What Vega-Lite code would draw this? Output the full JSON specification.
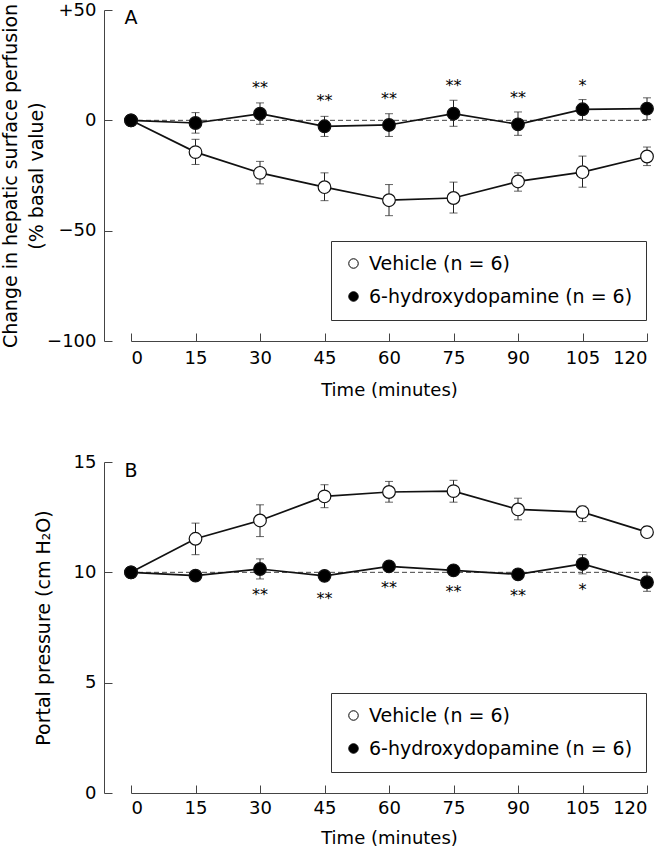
{
  "$schema": "https://vega.github.io/schema/vega-lite/v6.json",
  "padding": {"left": 1, "top": 1, "right": 0, "bottom": 2},
  "background": "white",
  "config": {
    "view": {"stroke": null},
    "font": "DejaVu Sans",
    "axis": {
      "domainColor": "#444", "tickColor": "#444", "domainWidth": 1, "tickWidth": 1,
      "labelColor": "black", "titleColor": "black", "labelFontSize": 18, "titleFontSize": 18,
      "titleFontWeight": "normal", "grid": false, "labelFont": "DejaVu Sans", "titleFont": "DejaVu Sans"
    },
    "legend": {"labelFont": "DejaVu Sans"}
  },
  "datasets": {
    "a": [
      {"t": 0, "group": "Vehicle (n = 6)", "mean": 0, "lo": 0, "hi": 0},
      {"t": 15, "group": "Vehicle (n = 6)", "mean": -14.4, "lo": -20.0, "hi": -8.6},
      {"t": 30, "group": "Vehicle (n = 6)", "mean": -23.8, "lo": -28.8, "hi": -18.6},
      {"t": 45, "group": "Vehicle (n = 6)", "mean": -30.3, "lo": -36.4, "hi": -23.8},
      {"t": 60, "group": "Vehicle (n = 6)", "mean": -36.2, "lo": -43.2, "hi": -29.1},
      {"t": 75, "group": "Vehicle (n = 6)", "mean": -35.2, "lo": -42.0, "hi": -28.0},
      {"t": 90, "group": "Vehicle (n = 6)", "mean": -27.7, "lo": -32.1, "hi": -23.8},
      {"t": 105, "group": "Vehicle (n = 6)", "mean": -23.5, "lo": -30.3, "hi": -16.2},
      {"t": 120, "group": "Vehicle (n = 6)", "mean": -16.4, "lo": -20.5, "hi": -12.1},
      {"t": 0, "group": "6-hydroxydopamine (n = 6)", "mean": 0, "lo": 0, "hi": 0},
      {"t": 15, "group": "6-hydroxydopamine (n = 6)", "mean": -1.2, "lo": -5.8, "hi": 3.5},
      {"t": 30, "group": "6-hydroxydopamine (n = 6)", "mean": 3.0, "lo": -1.8, "hi": 7.9},
      {"t": 45, "group": "6-hydroxydopamine (n = 6)", "mean": -2.7, "lo": -7.3, "hi": 1.8},
      {"t": 60, "group": "6-hydroxydopamine (n = 6)", "mean": -2.1, "lo": -7.3, "hi": 3.0},
      {"t": 75, "group": "6-hydroxydopamine (n = 6)", "mean": 3.0, "lo": -2.7, "hi": 9.1},
      {"t": 90, "group": "6-hydroxydopamine (n = 6)", "mean": -1.8, "lo": -6.8, "hi": 3.8},
      {"t": 105, "group": "6-hydroxydopamine (n = 6)", "mean": 5.0, "lo": 0.3, "hi": 9.4},
      {"t": 120, "group": "6-hydroxydopamine (n = 6)", "mean": 5.3, "lo": 0.3, "hi": 10.2}
    ],
    "b": [
      {"t": 0, "group": "Vehicle (n = 6)", "mean": 10, "lo": 10, "hi": 10},
      {"t": 15, "group": "Vehicle (n = 6)", "mean": 11.52, "lo": 10.8, "hi": 12.23},
      {"t": 30, "group": "Vehicle (n = 6)", "mean": 12.35, "lo": 11.62, "hi": 13.06},
      {"t": 45, "group": "Vehicle (n = 6)", "mean": 13.44, "lo": 12.93, "hi": 13.97},
      {"t": 60, "group": "Vehicle (n = 6)", "mean": 13.64, "lo": 13.18, "hi": 14.12},
      {"t": 75, "group": "Vehicle (n = 6)", "mean": 13.68, "lo": 13.18, "hi": 14.17},
      {"t": 90, "group": "Vehicle (n = 6)", "mean": 12.85, "lo": 12.38, "hi": 13.36},
      {"t": 105, "group": "Vehicle (n = 6)", "mean": 12.73, "lo": 12.3, "hi": 13.0},
      {"t": 120, "group": "Vehicle (n = 6)", "mean": 11.82, "lo": 11.6, "hi": 12.08},
      {"t": 0, "group": "6-hydroxydopamine (n = 6)", "mean": 10, "lo": 10, "hi": 10},
      {"t": 15, "group": "6-hydroxydopamine (n = 6)", "mean": 9.85, "lo": 9.75, "hi": 9.95},
      {"t": 30, "group": "6-hydroxydopamine (n = 6)", "mean": 10.15, "lo": 9.7, "hi": 10.61},
      {"t": 45, "group": "6-hydroxydopamine (n = 6)", "mean": 9.84, "lo": 9.74, "hi": 9.94},
      {"t": 60, "group": "6-hydroxydopamine (n = 6)", "mean": 10.27, "lo": 10.17, "hi": 10.37},
      {"t": 75, "group": "6-hydroxydopamine (n = 6)", "mean": 10.09, "lo": 9.99, "hi": 10.19},
      {"t": 90, "group": "6-hydroxydopamine (n = 6)", "mean": 9.91, "lo": 9.81, "hi": 10.01},
      {"t": 105, "group": "6-hydroxydopamine (n = 6)", "mean": 10.38, "lo": 9.93, "hi": 10.8},
      {"t": 120, "group": "6-hydroxydopamine (n = 6)", "mean": 9.55, "lo": 9.14, "hi": 10.0}
    ],
    "starsA": [
      {"t": 30, "v": 14.5, "s": "**"}, {"t": 45, "v": 8.6, "s": "**"}, {"t": 60, "v": 9.5, "s": "**"},
      {"t": 75, "v": 15.5, "s": "**"}, {"t": 90, "v": 10, "s": "**"}, {"t": 105, "v": 15.5, "s": "*"}
    ],
    "starsB": [
      {"t": 30, "v": 8.99, "s": "**"}, {"t": 45, "v": 8.79, "s": "**"}, {"t": 60, "v": 9.27, "s": "**"},
      {"t": 75, "v": 9.09, "s": "**"}, {"t": 90, "v": 8.91, "s": "**"}, {"t": 105, "v": 9.21, "s": "*"}
    ],
    "refA": [{"v": 0}],
    "refB": [{"v": 10}],
    "labA": [{"t": 0, "v": 46.5, "s": "A"}],
    "labB": [{"t": 0, "v": 14.6, "s": "B"}]
  },
  "spacing": 54,
  "resolve": {"scale": {"fill": "independent"}, "legend": {"fill": "independent"}},
  "vconcat": [
    {
      "width": 516, "height": 331,
      "layer": [
        {"data": {"name": "a"}, "mark": {"type": "rule", "color": "#222", "strokeWidth": 1},
         "encoding": {"x": {"field": "t", "type": "quantitative", "scale": {"domain": [0, 120], "nice": false},
                            "axis": {"values": [0, 15, 30, 45, 60, 75, 90, 105, 120], "title": "Time (minutes)", "tickSize": -8, "labelPadding": 16, "titlePadding": 14}},
                      "y": {"field": "lo", "type": "quantitative", "scale": {"domain": [-100, 50], "nice": false},
                            "axis": {"values": [-100, -50, 0, 50], "title": ["Change in hepatic surface perfusion", "(% basal value)"], "titleLineHeight": 26, "titleFontSize": 19,
                                     "offset": 27, "tickSize": -8, "labelPadding": 16, "titlePadding": 0,
                                     "labelExpr": "datum.value > 0 ? '+' + datum.label : datum.label"}},
                      "y2": {"field": "hi"}}},
        {"data": {"name": "refA"}, "mark": {"type": "rule", "strokeDash": [5, 3], "color": "#444", "strokeWidth": 1},
         "encoding": {"y": {"field": "v", "type": "quantitative"}}},
        {"data": {"name": "a"}, "mark": {"type": "tick", "orient": "horizontal", "color": "#222", "size": 8, "thickness": 1},
         "encoding": {"x": {"field": "t", "type": "quantitative"},
                      "y": {"field": "lo", "type": "quantitative"}}},
        {"data": {"name": "a"}, "mark": {"type": "tick", "orient": "horizontal", "color": "#222", "size": 8, "thickness": 1},
         "encoding": {"x": {"field": "t", "type": "quantitative"},
                      "y": {"field": "hi", "type": "quantitative"}}},
        {"data": {"name": "a"}, "mark": {"type": "line", "color": "#111", "strokeWidth": 1.7},
         "encoding": {"x": {"field": "t", "type": "quantitative"},
                      "y": {"field": "mean", "type": "quantitative"},
                      "detail": {"field": "group"}}},
        {"data": {"name": "a"}, "mark": {"type": "point", "filled": false, "shape": "circle", "stroke": "#111", "strokeWidth": 1.2, "size": 160, "opacity": 1},
         "encoding": {"x": {"field": "t", "type": "quantitative"},
                      "y": {"field": "mean", "type": "quantitative"},
                      "fill": {"field": "group", "type": "nominal",
                               "scale": {"domain": ["Vehicle (n = 6)", "6-hydroxydopamine (n = 6)"], "range": ["white", "black"]},
                               "legend": {"orient": "none", "legendX": 200, "legendY": 231, "title": null, "strokeColor": "#333",
                                          "fillColor": "white", "padding": 13, "labelFontSize": 19, "labelColor": "black", "labelLimit": 0,
                                          "symbolSize": 90, "symbolStrokeColor": "black", "symbolStrokeWidth": 1, "symbolType": "circle",
                                          "rowPadding": 13, "labelOffset": 6, "symbolOpacity": 1}}}},
        {"data": {"name": "starsA"}, "mark": {"type": "text", "fontSize": 16, "baseline": "middle", "align": "center", "color": "black"},
         "encoding": {"x": {"field": "t", "type": "quantitative"},
                      "y": {"field": "v", "type": "quantitative"},
                      "text": {"field": "s"}}},
        {"data": {"name": "labA"}, "mark": {"type": "text", "fontSize": 19, "baseline": "middle", "align": "center", "color": "black"},
         "encoding": {"x": {"field": "t", "type": "quantitative"},
                      "y": {"field": "v", "type": "quantitative"},
                      "text": {"field": "s"}}}
      ]
    },
    {
      "width": 516, "height": 331,
      "layer": [
        {"data": {"name": "b"}, "mark": {"type": "rule", "color": "#222", "strokeWidth": 1},
         "encoding": {"x": {"field": "t", "type": "quantitative", "scale": {"domain": [0, 120], "nice": false},
                            "axis": {"values": [0, 15, 30, 45, 60, 75, 90, 105, 120], "title": "Time (minutes)", "tickSize": -8, "labelPadding": 14, "titlePadding": 12}},
                      "y": {"field": "lo", "type": "quantitative", "scale": {"domain": [0, 15], "nice": false},
                            "axis": {"values": [0, 5, 10, 15], "title": "Portal pressure (cm H₂O)", "titleFontSize": 19,
                                     "offset": 27, "tickSize": -8, "labelPadding": 16, "titlePadding": 20}},
                      "y2": {"field": "hi"}}},
        {"data": {"name": "refB"}, "mark": {"type": "rule", "strokeDash": [5, 3], "color": "#444", "strokeWidth": 1},
         "encoding": {"y": {"field": "v", "type": "quantitative"}}},
        {"data": {"name": "b"}, "mark": {"type": "tick", "orient": "horizontal", "color": "#222", "size": 8, "thickness": 1},
         "encoding": {"x": {"field": "t", "type": "quantitative"},
                      "y": {"field": "lo", "type": "quantitative"}}},
        {"data": {"name": "b"}, "mark": {"type": "tick", "orient": "horizontal", "color": "#222", "size": 8, "thickness": 1},
         "encoding": {"x": {"field": "t", "type": "quantitative"},
                      "y": {"field": "hi", "type": "quantitative"}}},
        {"data": {"name": "b"}, "mark": {"type": "line", "color": "#111", "strokeWidth": 1.7},
         "encoding": {"x": {"field": "t", "type": "quantitative"},
                      "y": {"field": "mean", "type": "quantitative"},
                      "detail": {"field": "group"}}},
        {"data": {"name": "b"}, "mark": {"type": "point", "filled": false, "shape": "circle", "stroke": "#111", "strokeWidth": 1.2, "size": 160, "opacity": 1},
         "encoding": {"x": {"field": "t", "type": "quantitative"},
                      "y": {"field": "mean", "type": "quantitative"},
                      "fill": {"field": "group", "type": "nominal",
                               "scale": {"domain": ["Vehicle (n = 6)", "6-hydroxydopamine (n = 6)"], "range": ["white", "black"]},
                               "legend": {"orient": "none", "legendX": 200, "legendY": 231, "title": null, "strokeColor": "#333",
                                          "fillColor": "white", "padding": 13, "labelFontSize": 19, "labelColor": "black", "labelLimit": 0,
                                          "symbolSize": 90, "symbolStrokeColor": "black", "symbolStrokeWidth": 1, "symbolType": "circle",
                                          "rowPadding": 13, "labelOffset": 6, "symbolOpacity": 1}}}},
        {"data": {"name": "starsB"}, "mark": {"type": "text", "fontSize": 16, "baseline": "middle", "align": "center", "color": "black"},
         "encoding": {"x": {"field": "t", "type": "quantitative"},
                      "y": {"field": "v", "type": "quantitative"},
                      "text": {"field": "s"}}},
        {"data": {"name": "labB"}, "mark": {"type": "text", "fontSize": 19, "baseline": "middle", "align": "center", "color": "black"},
         "encoding": {"x": {"field": "t", "type": "quantitative"},
                      "y": {"field": "v", "type": "quantitative"},
                      "text": {"field": "s"}}}
      ]
    }
  ]
}
